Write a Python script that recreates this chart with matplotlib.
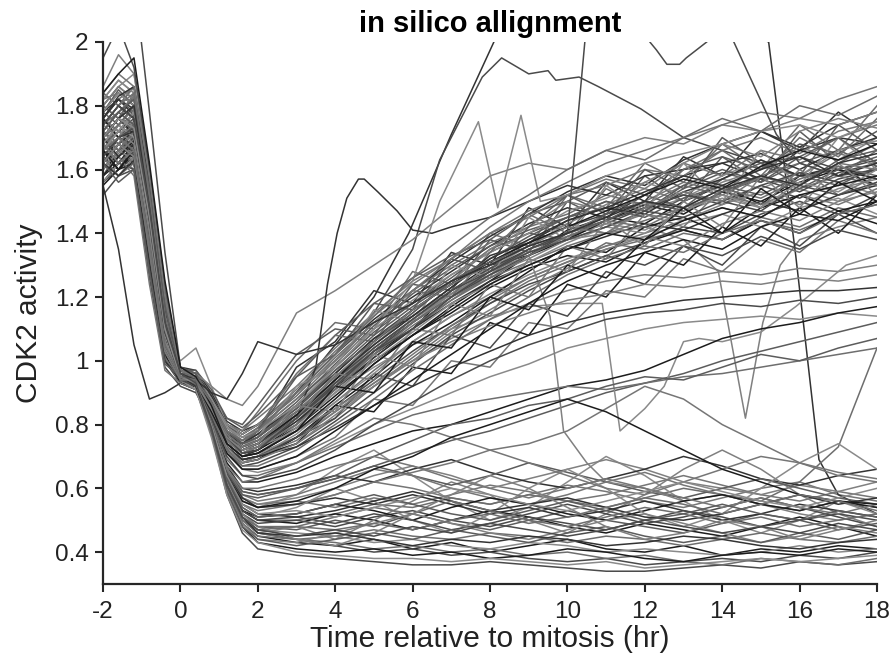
import matplotlib.pyplot as plt

plt.rcParams['font.family'] = ['Liberation Sans', 'DejaVu Sans']

# sampling times (hr relative to mitosis) shared by most cells
time_hr = [-2, -1.6, -1.2, -0.8, -0.4, 0, 0.4, 0.8, 1.2, 1.6, 2,
           3, 4, 5, 6, 7, 8, 9, 10, 11, 12, 13, 14, 15, 16, 17, 18]

# cells that re-activate CDK2 after mitosis
rising_cells = [
    [1.62,1.70,1.75,1.45,1.10,0.96,0.95,0.86,0.76,0.71,0.72, 0.80,0.93,1.02,1.10,1.22,1.30,1.33,1.41,1.45,1.43,1.50,1.55,1.49,1.58,1.60,1.55],
    [1.78,1.85,1.80,1.55,1.18,0.97,0.96,0.89,0.80,0.76,0.78, 0.88,0.98,1.10,1.18,1.26,1.35,1.40,1.38,1.46,1.52,1.48,1.57,1.62,1.55,1.63,1.66],
    [1.55,1.60,1.62,1.30,1.02,0.93,0.92,0.82,0.72,0.68,0.69, 0.76,0.86,0.95,1.05,1.12,1.20,1.28,1.36,1.34,1.42,1.45,1.40,1.48,1.52,1.47,1.50],
    [1.70,1.66,1.72,1.42,1.08,0.98,0.96,0.87,0.78,0.74,0.76, 0.86,0.97,1.06,1.15,1.25,1.32,1.39,1.45,1.50,1.47,1.55,1.60,1.56,1.64,1.70,1.62],
    [1.84,1.90,1.95,1.62,1.25,0.98,0.95,0.86,0.74,0.70,0.71, 0.78,0.88,0.99,1.08,1.16,1.24,1.30,1.35,1.40,1.38,1.44,1.48,1.45,1.52,1.55,1.58],
    [1.66,1.74,1.69,1.38,1.06,0.94,0.93,0.84,0.73,0.69,0.70, 0.74,0.82,0.92,1.01,1.10,1.18,1.25,1.30,1.37,1.35,1.40,1.38,1.45,1.42,1.48,1.45],
    [1.58,1.65,1.70,1.40,1.05,0.96,0.95,0.88,0.80,0.78,0.82, 0.92,1.04,1.15,1.25,1.32,1.40,1.45,1.52,1.55,1.60,1.58,1.66,1.70,1.65,1.72,1.75],
    [1.74,1.78,1.82,1.50,1.14,0.96,0.93,0.83,0.72,0.67,0.67, 0.72,0.80,0.88,0.97,1.05,1.13,1.20,1.27,1.32,1.36,1.34,1.40,1.44,1.40,1.46,1.49],
    [1.68,1.62,1.66,1.34,1.03,0.94,0.94,0.86,0.77,0.73,0.75, 0.84,0.95,1.06,1.16,1.24,1.30,1.36,1.42,1.40,1.48,1.53,1.50,1.58,1.55,1.62,1.60],
    [1.80,1.76,1.83,1.58,1.20,0.98,0.97,0.90,0.81,0.78,0.80, 0.90,1.00,1.12,1.20,1.28,1.36,1.43,1.48,1.45,1.52,1.58,1.62,1.57,1.66,1.70,1.68],
    [1.52,1.58,1.60,1.26,0.98,0.92,0.90,0.81,0.71,0.67,0.68, 0.73,0.81,0.90,0.99,1.08,1.15,1.22,1.28,1.33,1.37,1.42,1.40,1.46,1.50,1.46,1.52],
    [1.76,1.83,1.86,1.54,1.16,0.96,0.95,0.87,0.77,0.74,0.77, 0.86,0.96,1.07,1.14,1.23,1.33,1.37,1.44,1.48,1.46,1.53,1.57,1.63,1.58,1.61,1.57],
    [1.64,1.70,1.73,1.44,1.09,0.95,0.94,0.86,0.76,0.71,0.72, 0.82,0.92,1.03,1.10,1.20,1.28,1.34,1.38,1.42,1.47,1.45,1.50,1.47,1.55,1.52,1.56],
    [1.72,1.66,1.68,1.36,1.04,0.97,0.96,0.89,0.79,0.75,0.77, 0.84,0.93,1.02,1.12,1.21,1.30,1.38,1.43,1.49,1.54,1.50,1.56,1.60,1.67,1.63,1.70],
    [1.60,1.68,1.64,1.32,1.01,0.93,0.92,0.83,0.73,0.69,0.70, 0.77,0.87,0.96,1.06,1.14,1.21,1.27,1.32,1.36,1.39,1.43,1.46,1.42,1.48,1.51,1.46],
    [1.86,1.96,1.90,1.60,1.22,0.97,0.96,0.88,0.78,0.73,0.74, 0.82,0.94,1.05,1.15,1.25,1.35,1.42,1.50,1.47,1.56,1.62,1.68,1.64,1.72,1.76,1.73],
    [1.66,1.72,1.78,1.48,1.12,0.95,0.93,0.85,0.74,0.70,0.71, 0.79,0.90,1.00,1.09,1.18,1.24,1.31,1.37,1.42,1.40,1.47,1.52,1.48,1.56,1.53,1.60],
    [1.56,1.62,1.66,1.34,1.04,0.95,0.93,0.84,0.75,0.72,0.74, 0.83,0.92,1.00,1.08,1.15,1.23,1.29,1.33,1.31,1.37,1.41,1.38,1.44,1.40,1.47,1.43],
    [1.78,1.74,1.80,1.52,1.15,0.97,0.97,0.91,0.82,0.79,0.83, 0.95,1.08,1.18,1.26,1.33,1.38,1.46,1.50,1.56,1.52,1.60,1.64,1.60,1.68,1.65,1.72],
    [1.70,1.76,1.71,1.40,1.07,0.94,0.92,0.82,0.71,0.66,0.66, 0.70,0.78,0.86,0.94,1.02,1.10,1.18,1.25,1.30,1.34,1.38,1.35,1.42,1.46,1.44,1.50],
    [1.62,1.56,1.60,1.28,0.99,0.95,0.94,0.87,0.78,0.74,0.76, 0.85,0.97,1.08,1.17,1.25,1.31,1.36,1.40,1.44,1.50,1.47,1.53,1.58,1.54,1.60,1.64],
    [1.82,1.88,1.84,1.56,1.19,0.97,0.94,0.85,0.75,0.71,0.73, 0.80,0.90,1.01,1.10,1.19,1.27,1.35,1.40,1.46,1.50,1.56,1.53,1.61,1.58,1.65,1.62],
    [1.68,1.74,1.77,1.46,1.10,0.96,0.95,0.88,0.79,0.76,0.79, 0.89,1.01,1.12,1.22,1.30,1.37,1.42,1.46,1.52,1.49,1.55,1.52,1.58,1.62,1.58,1.66],
    [1.58,1.64,1.58,1.24,0.97,0.93,0.91,0.82,0.72,0.68,0.70, 0.75,0.84,0.93,1.02,1.11,1.19,1.26,1.31,1.36,1.40,1.44,1.48,1.45,1.52,1.49,1.54],
    [1.74,1.80,1.84,1.52,1.13,0.96,0.95,0.87,0.76,0.72,0.73, 0.80,0.91,1.02,1.12,1.20,1.26,1.33,1.39,1.44,1.42,1.48,1.54,1.51,1.57,1.61,1.58],
    [1.64,1.60,1.67,1.38,1.06,0.95,0.94,0.86,0.76,0.73,0.75, 0.83,0.93,1.03,1.13,1.22,1.29,1.35,1.39,1.43,1.48,1.52,1.49,1.55,1.51,1.57,1.60],
    [1.76,1.82,1.79,1.50,1.16,0.97,0.96,0.89,0.80,0.77,0.80, 0.90,1.02,1.13,1.22,1.31,1.39,1.46,1.53,1.58,1.55,1.63,1.68,1.72,1.67,1.74,1.78],
    [1.60,1.66,1.70,1.36,1.03,0.94,0.92,0.83,0.73,0.69,0.70, 0.76,0.85,0.94,1.03,1.11,1.18,1.24,1.28,1.33,1.30,1.36,1.33,1.39,1.35,1.41,1.38],
    [1.70,1.64,1.68,1.40,1.08,0.96,0.95,0.87,0.77,0.73,0.75, 0.84,0.95,1.05,1.14,1.23,1.32,1.38,1.44,1.48,1.53,1.58,1.55,1.60,1.64,1.58,1.62],
    [1.80,1.86,1.90,1.60,1.24,0.97,0.94,0.85,0.74,0.70,0.72, 0.81,0.92,1.03,1.12,1.20,1.29,1.36,1.43,1.40,1.47,1.51,1.57,1.54,1.59,1.56,1.52],
    [1.66,1.70,1.64,1.35,1.05,0.94,0.93,0.85,0.75,0.71,0.73, 0.82,0.93,1.04,1.13,1.21,1.27,1.32,1.38,1.42,1.46,1.44,1.49,1.53,1.49,1.54,1.57],
    [1.56,1.62,1.68,1.38,1.04,0.95,0.94,0.88,0.80,0.77,0.80, 0.90,1.00,1.10,1.19,1.27,1.34,1.40,1.47,1.51,1.56,1.52,1.58,1.63,1.58,1.66,1.69],
    [1.72,1.78,1.74,1.46,1.11,0.96,0.94,0.84,0.73,0.68,0.69, 0.74,0.83,0.92,1.00,1.09,1.16,1.23,1.29,1.35,1.39,1.36,1.43,1.47,1.44,1.50,1.53],
    [1.84,1.80,1.86,1.58,1.21,0.97,0.96,0.88,0.77,0.73,0.76, 0.86,0.98,1.09,1.18,1.27,1.34,1.40,1.45,1.50,1.47,1.54,1.59,1.56,1.62,1.66,1.61],
    [1.62,1.68,1.72,1.42,1.07,0.95,0.93,0.85,0.75,0.71,0.72, 0.79,0.89,0.99,1.08,1.17,1.25,1.33,1.38,1.44,1.49,1.46,1.53,1.50,1.56,1.60,1.57],
    [1.68,1.72,1.70,1.41,1.07,0.96,0.95,0.87,0.78,0.74,0.77, 0.87,0.99,1.11,1.21,1.29,1.36,1.41,1.45,1.48,1.45,1.51,1.55,1.52,1.58,1.55,1.61],
    [1.76,1.70,1.74,1.47,1.12,0.95,0.94,0.86,0.76,0.72,0.74, 0.83,0.94,1.06,1.16,1.24,1.31,1.37,1.42,1.47,1.52,1.57,1.54,1.61,1.66,1.63,1.68],
    [1.58,1.66,1.62,1.30,1.00,0.94,0.93,0.84,0.74,0.70,0.71, 0.78,0.87,0.97,1.06,1.14,1.20,1.26,1.31,1.35,1.38,1.41,1.38,1.44,1.41,1.46,1.49],
    [1.82,1.84,1.80,1.53,1.17,0.97,0.96,0.89,0.80,0.77,0.80, 0.91,1.03,1.14,1.24,1.32,1.40,1.47,1.52,1.57,1.54,1.62,1.58,1.66,1.63,1.70,1.74],
    [1.64,1.58,1.62,1.31,1.01,0.94,0.93,0.85,0.75,0.72,0.74, 0.82,0.92,1.02,1.11,1.19,1.26,1.31,1.36,1.40,1.44,1.48,1.52,1.49,1.54,1.58,1.55],
    [1.72,1.78,1.83,1.51,1.14,0.96,0.95,0.88,0.79,0.76,0.78, 0.88,1.00,1.12,1.22,1.32,1.42,1.50,1.56,1.62,1.66,1.70,1.74,1.78,1.76,1.82,1.86],
    [1.66,1.70,1.66,1.37,1.05,0.95,0.94,0.87,0.78,0.75,0.78, 0.90,1.02,1.14,1.26,1.36,1.45,1.52,1.60,1.66,1.63,1.70,1.76,1.72,1.80,1.77,1.83],
    [2.10,2.20,2.20,1.78,1.34,0.98,0.96,0.88,0.78,0.74,0.76, 0.85,0.96,1.07,1.16,1.24,1.31,1.37,1.42,1.46,1.50,1.47,1.53,1.57,1.53,1.59,1.62],
    [1.55,1.35,1.05,0.88,0.90,0.93,0.92,0.84,0.75,0.71,0.73, 0.81,0.91,1.01,1.10,1.18,1.25,1.30,1.35,1.39,1.43,1.41,1.46,1.50,1.47,1.52,1.55],
    [1.95,2.05,1.92,1.60,1.22,0.97,0.95,0.86,0.76,0.72,0.74, 0.83,0.94,1.04,1.13,1.22,1.28,1.35,1.40,1.44,1.48,1.52,1.50,1.55,1.59,1.56,1.60],
    [1.70,1.76,1.80,1.48,1.12,0.96,0.94,0.90,0.88,0.96,1.06, 1.02,1.05,1.12,1.18,1.25,1.30,1.36,1.40,1.45,1.50,1.48,1.54,1.58,1.55,1.62,1.65],
    [1.60,1.66,1.70,1.40,1.08,1.00,1.04,0.92,0.80,0.74,0.75, 0.83,0.93,1.03,1.12,1.21,1.28,1.34,1.39,1.43,1.41,1.47,1.51,1.48,1.54,1.50,1.56],
    [1.68,1.74,1.70,1.44,1.10,0.97,0.96,0.92,0.88,0.86,0.92, 1.15,1.22,1.30,1.38,1.48,1.58,1.62,1.60,1.66,1.70,1.68,1.74,1.72,1.76,1.74,1.78],
    [1.74,1.70,1.78,1.50,1.14,0.97,0.95,0.87,0.77,0.73,0.76, 0.92,0.98,1.16,1.12,1.30,1.26,1.45,1.38,1.55,1.47,1.62,1.50,1.66,1.55,1.70,1.60],
    [1.62,1.68,1.64,1.36,1.04,0.95,0.93,0.85,0.76,0.72,0.74, 0.86,0.84,1.02,0.98,1.18,1.14,1.32,1.28,1.44,1.36,1.50,1.42,1.58,1.48,1.62,1.52],
    [1.80,1.86,1.82,1.55,1.18,0.97,0.96,0.89,0.82,0.80,0.86, 1.02,1.10,1.08,1.24,1.22,1.38,1.34,1.50,1.44,1.58,1.50,1.64,1.56,1.72,1.62,1.68],
    [1.58,1.62,1.68,1.38,1.04,0.94,0.92,0.83,0.73,0.69,0.70, 0.74,0.86,0.84,0.98,0.96,1.12,1.08,1.24,1.20,1.34,1.30,1.42,1.36,1.48,1.40,1.52],
    [1.70,1.76,1.72,1.46,1.11,0.96,0.94,0.86,0.77,0.74,0.78, 0.95,1.02,1.18,1.16,1.32,1.28,1.42,1.52,1.46,1.60,1.54,1.70,1.62,1.58,1.74,1.66],
    [1.66,1.60,1.66,1.36,1.04,0.95,0.93,0.84,0.74,0.70,0.71, 0.78,0.92,0.90,1.06,1.04,1.20,1.16,1.30,1.26,1.38,1.48,1.40,1.54,1.46,1.56,1.50],
    [1.76,1.82,1.86,1.56,1.18,0.97,0.95,0.88,0.80,0.78,0.84, 1.00,1.12,1.10,1.28,1.24,1.40,1.36,1.52,1.48,1.62,1.56,1.68,1.60,1.74,1.66,1.80],
    [1.60,1.66,1.62,1.34,1.02,0.94,0.92,0.82,0.71,0.66,0.66, 0.70,0.76,0.88,0.86,1.00,0.98,1.12,1.10,1.22,1.20,1.32,1.28,1.38,1.34,1.44,1.40],
    [1.72,1.68,1.74,1.47,1.12,0.96,0.95,0.87,0.78,0.75,0.79, 0.96,1.08,1.06,1.22,1.20,1.34,1.46,1.40,1.54,1.48,1.60,1.66,1.58,1.70,1.64,1.76],
    [1.84,1.90,1.86,1.58,1.21,0.97,0.95,0.86,0.75,0.71,0.73, 0.82,0.96,0.94,1.10,1.08,1.24,1.20,1.36,1.32,1.46,1.42,1.54,1.48,1.60,1.52,1.58],
    [1.64,1.70,1.68,1.40,1.06,0.95,0.94,0.86,0.77,0.74,0.78, 0.98,1.06,1.22,1.18,1.34,1.30,1.48,1.42,1.56,1.50,1.64,1.58,1.72,1.66,1.78,1.70],
    [1.56,1.62,1.60,1.30,1.00,0.93,0.91,0.82,0.72,0.68,0.69, 0.76,0.82,0.96,0.92,1.08,1.04,1.18,1.14,1.28,1.24,1.36,1.30,1.42,1.36,1.46,1.40],
]

# cells that level off around 1.1-1.3
plateau_cells = [
    [1.70,1.76,1.80,1.50,1.12,0.95,0.93,0.84,0.73,0.69,0.70, 0.73,0.79,0.86,0.92,0.98,1.03,1.08,1.12,1.15,1.17,1.19,1.20,1.21,1.22,1.22,1.23],
    [1.62,1.68,1.64,1.36,1.04,0.94,0.92,0.82,0.70,0.64,0.63, 0.66,0.72,0.80,0.87,0.94,1.00,1.05,1.09,1.13,1.15,1.16,1.18,1.17,1.19,1.18,1.20],
    [1.74,1.70,1.75,1.45,1.10,0.96,0.94,0.85,0.74,0.70,0.71, 0.76,0.84,0.92,1.00,1.07,1.13,1.18,1.22,1.25,1.27,1.26,1.28,1.27,1.29,1.28,1.30],
    [1.58,1.64,1.69,1.38,1.05,0.94,0.93,0.83,0.71,0.66,0.65, 0.68,0.74,0.80,0.85,0.90,0.95,0.99,1.04,1.07,1.10,1.12,1.13,1.14,1.13,1.15,1.14],
    [1.80,1.86,1.82,1.54,1.16,0.96,0.95,0.86,0.75,0.71,0.73, 0.78,0.85,0.93,1.00,1.06,1.11,1.15,1.19,1.21,1.24,1.23,1.25,1.24,1.26,1.25,1.27],
]

# quiescent cells (CDK2 low)
low_cells = [
    [1.68,1.74,1.70,1.42,1.08,0.94,0.91,0.76,0.58,0.47,0.43, 0.40,0.39,0.38,0.38,0.37,0.38,0.37,0.36,0.37,0.35,0.36,0.37,0.38,0.37,0.38,0.39],
    [1.60,1.66,1.72,1.40,1.05,0.95,0.92,0.78,0.60,0.49,0.45, 0.43,0.42,0.44,0.41,0.43,0.40,0.42,0.44,0.41,0.40,0.42,0.39,0.41,0.40,0.42,0.41],
    [1.76,1.82,1.78,1.52,1.15,0.96,0.93,0.80,0.63,0.52,0.48, 0.47,0.50,0.48,0.52,0.49,0.47,0.50,0.53,0.50,0.48,0.46,0.49,0.52,0.50,0.47,0.49],
    [1.66,1.62,1.68,1.36,1.03,0.94,0.92,0.79,0.62,0.53,0.51, 0.52,0.55,0.53,0.50,0.54,0.57,0.55,0.52,0.50,0.53,0.56,0.58,0.55,0.53,0.56,0.54],
    [1.72,1.78,1.82,1.54,1.17,0.95,0.92,0.77,0.59,0.48,0.44, 0.42,0.44,0.46,0.44,0.47,0.45,0.43,0.46,0.48,0.45,0.43,0.45,0.43,0.46,0.44,0.47],
    [1.58,1.64,1.60,1.30,1.00,0.93,0.91,0.79,0.64,0.56,0.54, 0.55,0.58,0.62,0.60,0.57,0.55,0.58,0.61,0.59,0.56,0.54,0.57,0.60,0.62,0.58,0.56],
    [1.80,1.76,1.84,1.57,1.19,0.97,0.94,0.80,0.61,0.50,0.46, 0.44,0.43,0.41,0.42,0.40,0.41,0.39,0.40,0.38,0.39,0.37,0.36,0.38,0.37,0.36,0.38],
    [1.64,1.70,1.67,1.38,1.05,0.95,0.93,0.81,0.66,0.58,0.56, 0.58,0.62,0.66,0.64,0.60,0.57,0.55,0.58,0.62,0.65,0.61,0.58,0.55,0.53,0.56,0.54],
    [1.70,1.66,1.72,1.43,1.09,0.95,0.92,0.78,0.60,0.50,0.47, 0.48,0.51,0.54,0.52,0.56,0.53,0.50,0.48,0.51,0.54,0.52,0.49,0.51,0.48,0.50,0.52],
    [1.56,1.62,1.66,1.33,1.01,0.94,0.91,0.77,0.58,0.46,0.41, 0.39,0.38,0.37,0.36,0.36,0.37,0.36,0.35,0.34,0.34,0.35,0.36,0.35,0.37,0.36,0.37],
    [1.78,1.84,1.80,1.53,1.16,0.96,0.94,0.82,0.67,0.60,0.59, 0.61,0.64,0.62,0.66,0.69,0.65,0.62,0.60,0.63,0.66,0.70,0.67,0.63,0.61,0.64,0.66],
    [1.66,1.72,1.76,1.47,1.11,0.95,0.92,0.79,0.62,0.52,0.49, 0.50,0.48,0.51,0.53,0.50,0.48,0.51,0.49,0.47,0.50,0.53,0.51,0.48,0.50,0.52,0.50],
    [1.62,1.58,1.63,1.31,1.00,0.94,0.92,0.80,0.64,0.55,0.52, 0.51,0.53,0.56,0.59,0.56,0.53,0.55,0.57,0.54,0.51,0.50,0.52,0.55,0.58,0.55,0.57],
    [1.74,1.80,1.76,1.48,1.12,0.96,0.93,0.79,0.61,0.51,0.47, 0.45,0.47,0.45,0.48,0.46,0.49,0.47,0.45,0.47,0.50,0.48,0.46,0.48,0.46,0.49,0.47],
    [1.68,1.64,1.70,1.39,1.06,0.95,0.93,0.81,0.65,0.57,0.55, 0.57,0.60,0.64,0.67,0.64,0.60,0.63,0.66,0.69,0.66,0.62,0.60,0.58,0.61,0.59,0.62],
    [1.82,1.88,1.84,1.59,1.21,0.97,0.94,0.80,0.62,0.51,0.47, 0.46,0.45,0.43,0.44,0.42,0.41,0.43,0.42,0.40,0.41,0.40,0.39,0.40,0.42,0.40,0.41],
    [1.60,1.66,1.63,1.34,1.03,0.94,0.91,0.78,0.60,0.49,0.44, 0.43,0.46,0.49,0.52,0.49,0.46,0.44,0.47,0.50,0.52,0.49,0.46,0.43,0.45,0.48,0.46],
    [1.70,1.76,1.73,1.45,1.10,0.95,0.93,0.80,0.64,0.55,0.52, 0.53,0.51,0.54,0.57,0.60,0.58,0.55,0.53,0.56,0.59,0.62,0.59,0.56,0.54,0.57,0.60],
    [1.64,1.60,1.66,1.35,1.03,0.94,0.92,0.79,0.62,0.53,0.50, 0.49,0.52,0.50,0.47,0.50,0.53,0.51,0.48,0.46,0.49,0.47,0.45,0.48,0.51,0.48,0.45],
    [1.76,1.72,1.78,1.50,1.14,0.96,0.94,0.81,0.66,0.59,0.58, 0.60,0.63,0.67,0.64,0.61,0.64,0.68,0.65,0.62,0.59,0.57,0.60,0.63,0.60,0.57,0.55],
    [1.58,1.64,1.69,1.39,1.05,0.95,0.92,0.78,0.59,0.48,0.43, 0.41,0.40,0.41,0.39,0.40,0.38,0.39,0.41,0.40,0.38,0.37,0.39,0.40,0.39,0.41,0.40],
    [1.72,1.78,1.74,1.46,1.10,0.95,0.93,0.80,0.63,0.54,0.51, 0.52,0.55,0.58,0.55,0.52,0.50,0.53,0.56,0.53,0.50,0.52,0.55,0.52,0.50,0.53,0.51],
    [1.66,1.70,1.64,1.34,1.03,0.94,0.92,0.80,0.65,0.57,0.55, 0.56,0.54,0.57,0.55,0.58,0.61,0.59,0.56,0.58,0.61,0.64,0.61,0.58,0.56,0.59,0.57],
    [1.84,1.80,1.86,1.60,1.23,0.97,0.94,0.79,0.60,0.49,0.45, 0.44,0.45,0.47,0.45,0.44,0.46,0.45,0.43,0.45,0.44,0.42,0.44,0.46,0.44,0.43,0.45],
    [1.62,1.68,1.65,1.36,1.04,0.94,0.92,0.81,0.66,0.60,0.60, 0.63,0.67,0.70,0.67,0.63,0.60,0.57,0.60,0.63,0.60,0.57,0.54,0.57,0.54,0.52,0.55],
    [1.70,1.74,1.79,1.50,1.13,0.96,0.93,0.79,0.61,0.51,0.48, 0.48,0.47,0.49,0.47,0.50,0.52,0.49,0.51,0.54,0.57,0.55,0.52,0.55,0.58,0.56,0.53],
    [1.56,1.60,1.64,1.32,1.01,0.93,0.91,0.78,0.60,0.50,0.46, 0.44,0.42,0.40,0.41,0.39,0.40,0.38,0.37,0.38,0.36,0.37,0.38,0.37,0.39,0.38,0.40],
    [1.78,1.82,1.77,1.51,1.15,0.96,0.94,0.81,0.65,0.57,0.54, 0.55,0.57,0.55,0.58,0.55,0.52,0.54,0.51,0.53,0.56,0.53,0.50,0.52,0.55,0.53,0.51],
    [1.68,1.62,1.67,1.38,1.06,0.95,0.93,0.80,0.63,0.53,0.50, 0.51,0.49,0.52,0.50,0.47,0.49,0.52,0.55,0.52,0.49,0.51,0.54,0.57,0.54,0.51,0.48],
    [1.64,1.70,1.72,1.44,1.09,0.95,0.92,0.79,0.61,0.51,0.46, 0.45,0.46,0.44,0.42,0.44,0.43,0.45,0.44,0.42,0.43,0.45,0.44,0.42,0.41,0.43,0.44],
    [1.70,1.76,1.74,1.46,1.10,0.95,0.92,0.80,0.64,0.56,0.54, 0.58,0.66,0.72,0.64,0.56,0.50,0.54,0.62,0.70,0.64,0.56,0.50,0.46,0.50,0.56,0.52],
    [1.62,1.58,1.64,1.34,1.02,0.94,0.91,0.78,0.60,0.50,0.46, 0.48,0.44,0.50,0.56,0.62,0.58,0.50,0.46,0.52,0.58,0.66,0.72,0.66,0.58,0.52,0.48],
    [1.78,1.84,1.80,1.53,1.16,0.96,0.93,0.80,0.63,0.54,0.51, 0.54,0.60,0.56,0.50,0.46,0.52,0.60,0.66,0.60,0.52,0.48,0.52,0.60,0.68,0.74,0.66],
    [1.66,1.72,1.68,1.40,1.06,0.95,0.92,0.79,0.62,0.52,0.48, 0.44,0.42,0.46,0.52,0.58,0.64,0.60,0.54,0.48,0.44,0.46,0.50,0.48,0.44,0.47,0.50],
]

# cells drifting between the two populations
between_cells = [
    [1.70,1.76,1.72,1.44,1.09,0.95,0.93,0.80,0.66,0.59,0.58, 0.60,0.63,0.67,0.71,0.75,0.78,0.82,0.86,0.90,0.93,0.96,1.00,1.03,1.06,1.09,1.12],
    [1.66,1.60,1.65,1.34,1.02,0.94,0.92,0.81,0.68,0.62,0.62, 0.65,0.70,0.74,0.78,0.80,0.84,0.88,0.92,0.94,0.97,1.02,1.07,1.10,1.12,1.15,1.17],
    [1.62,1.68,1.64,1.35,1.03,0.94,0.92,0.80,0.65,0.58,0.57, 0.60,0.64,0.70,0.75,0.80,0.82,0.86,0.88,0.92,0.95,0.94,0.98,1.02,1.00,1.04,1.07],
    [1.74,1.80,1.76,1.49,1.12,0.96,0.93,0.80,0.64,0.56,0.54, 0.56,0.60,0.66,0.70,0.76,0.80,0.84,0.88,0.84,0.78,0.72,0.66,0.62,0.58,0.56,0.55],
    [1.60,1.66,1.70,1.42,1.07,0.95,0.92,0.79,0.62,0.53,0.50, 0.50,0.52,0.55,0.54,0.57,0.55,0.58,0.56,0.54,0.57,0.60,0.58,0.56,0.62,0.73,1.04],
    [1.68,1.72,1.69,1.40,1.07,0.95,0.92,0.79,0.63,0.55,0.53, 0.55,0.58,0.62,0.65,0.68,0.72,0.74,0.78,0.85,0.92,0.88,0.80,0.74,0.68,0.64,0.62],
    [1.76,1.70,1.74,1.46,1.11,0.96,0.93,0.82,0.69,0.64,0.64, 0.68,0.73,0.78,0.83,0.86,0.88,0.90,0.92,0.91,0.93,0.95,0.96,0.98,1.00,1.02,1.04],
    [1.64,1.70,1.74,1.45,1.09,0.95,0.93,0.81,0.67,0.62,0.63, 0.68,0.75,0.82,0.80,0.76,0.72,0.68,0.64,0.60,0.58,0.62,0.66,0.70,0.68,0.65,0.63],
]

# individual outlier tracks, each with its own time points
outlier_a_t = [-2,-1.6,-1.2,-0.8,-0.4,0,0.4,0.8,1.2,1.6,2,3,4,5,5.9,7,8.1,9,15.2,15.9,16.5,17,18]
outlier_a_v = [1.66,1.72,1.75,1.45,1.09,0.95,0.94,0.87,0.78,0.75,0.78,0.90,1.05,1.20,1.40,1.71,2.00,2.30,2.00,1.33,0.69,0.58,0.52]

outlier_b_t = [-2,-1.6,-1.2,-0.8,-0.4,0,0.4,0.8,1.2,1.6,2,3,4,5,6,6.7,7.8,8.3,9,9.5,9.7,10.3,10.8,11.9,13,14,15,16,17,18]
outlier_b_v = [1.72,1.68,1.74,1.46,1.10,0.96,0.95,0.88,0.80,0.77,0.80,0.90,1.02,1.15,1.35,1.63,1.89,1.95,1.90,1.91,1.88,1.89,1.86,1.79,1.70,1.66,1.62,1.64,1.60,1.63]

outlier_c_t = [-2,-1.6,-1.2,-0.8,-0.4,0,0.4,0.8,1.2,1.6,2,3,3.5,3.8,4.05,4.3,4.6,4.75,5.1,5.6,6,6.5,7,8,9,10,11,12,13,14,15,16,17,18]
outlier_c_v = [1.62,1.68,1.72,1.42,1.06,0.95,0.93,0.84,0.74,0.70,0.72,0.82,0.98,1.24,1.40,1.51,1.57,1.57,1.53,1.47,1.41,1.40,1.42,1.45,1.50,1.55,1.52,1.58,1.60,1.62,1.65,1.60,1.66,1.70]

outlier_d_t = [-2,-1.6,-1.2,-0.8,-0.4,0,0.4,0.8,1.2,1.6,2,3,4,5,6,7,8,9,10,10.45,11,12,12.13,12.3,12.57,12.9,13.07,13.6,14,14.3,15.4,16,17,18]
outlier_d_v = [1.74,1.80,1.76,1.50,1.13,0.96,0.94,0.86,0.76,0.72,0.74,0.82,0.93,1.03,1.12,1.20,1.27,1.33,1.40,2.00,2.20,2.05,2.00,1.975,1.93,1.93,1.95,2.00,2.05,2.00,1.71,1.62,1.58,1.60]

outlier_e_t = [-2,-1.6,-1.2,-0.8,-0.4,0,0.4,0.8,1.2,1.6,2,3,4,5,6,7,8,9,10,11,12,13,13.9,14.6,15.05,15.5,16,17,18]
outlier_e_v = [1.70,1.64,1.70,1.43,1.08,0.96,0.94,0.86,0.76,0.72,0.74,0.84,0.95,1.05,1.14,1.22,1.29,1.34,1.38,1.40,1.42,1.38,1.28,0.82,1.12,1.30,1.38,1.42,1.45]

outlier_f_t = [-2,-1.6,-1.2,-0.8,-0.4,0,0.4,0.8,1.2,1.6,2,3,4,5,6,7,8,9,10,10.9,11.36,12,12.5,13,13.4,14,15,15.9,17.2,18]
outlier_f_v = [1.66,1.70,1.74,1.44,1.09,0.95,0.93,0.84,0.73,0.69,0.70,0.80,0.90,0.98,1.05,1.10,1.14,1.17,1.18,1.18,0.78,0.85,0.92,1.06,1.07,1.06,1.09,1.17,1.30,1.33]

outlier_g_t = [-2,-1.6,-1.2,-0.8,-0.4,0,0.4,0.8,1.2,1.6,2,3,4,5,6,7,8,9,9.55,9.9,10.5,11,12,13,14,15,16,17,18]
outlier_g_v = [1.76,1.72,1.78,1.50,1.13,0.96,0.94,0.85,0.75,0.71,0.73,0.83,0.94,1.04,1.13,1.21,1.28,1.33,1.14,0.78,0.68,0.62,0.60,0.56,0.58,0.55,0.52,0.50,0.52]

outlier_h_t = [-2,-1.6,-1.2,-0.8,-0.4,0,0.4,0.8,1.2,1.6,2,3,4,5,6,6.7,7.7,8.2,8.8,9.3,10,11,12,13,14,15,16,17,18]
outlier_h_v = [1.64,1.70,1.66,1.40,1.06,0.96,0.95,0.88,0.79,0.76,0.78,0.86,0.98,1.10,1.25,1.50,1.75,1.48,1.77,1.50,1.52,1.58,1.62,1.65,1.68,1.72,1.74,1.70,1.75]

outliers = [(outlier_a_t, outlier_a_v), (outlier_b_t, outlier_b_v),
            (outlier_c_t, outlier_c_v), (outlier_d_t, outlier_d_v),
            (outlier_e_t, outlier_e_v), (outlier_f_t, outlier_f_v),
            (outlier_g_t, outlier_g_v), (outlier_h_t, outlier_h_v)]

x_ticks = [-2, 0, 2, 4, 6, 8, 10, 12, 14, 16, 18]
x_tick_labels = ['-2', '0', '2', '4', '6', '8', '10', '12', '14', '16', '18']
y_ticks = [0.4, 0.6, 0.8, 1.0, 1.2, 1.4, 1.6, 1.8, 2.0]
y_tick_labels = ['0.4', '0.6', '0.8', '1', '1.2', '1.4', '1.6', '1.8', '2']

# matlab-ish gray shades, cycled so neighbours differ
grays = ['#1c1c1c', '#6e6e6e', '#4a4a4a', '#808080', '#5c5c5c', '#767676', '#333333', '#8a8a8a']

traces = [(time_hr, v) for v in rising_cells + plateau_cells + low_cells + between_cells] + outliers
n = len(traces)
order = [(i * 37) % n for i in range(n)]

fig = plt.figure(figsize=(8.95, 6.58), dpi=100)
ax = fig.add_axes([0.1151, 0.1125, 0.8648, 0.8237])

for k, idx in enumerate(order):
    t, v = traces[idx]
    ax.plot(t, v, color=grays[k % len(grays)], lw=1.1)

ax.set_xlim(-2, 18)
ax.set_ylim(0.3, 2)
ax.set_xticks(x_ticks)
ax.set_xticklabels(x_tick_labels)
ax.set_yticks(y_ticks)
ax.set_yticklabels(y_tick_labels)

for side in ['top', 'right']:
    ax.spines[side].set_visible(False)
for side in ['left', 'bottom']:
    ax.spines[side].set_linewidth(1.6)
    ax.spines[side].set_color('#262626')
ax.tick_params(direction='out', length=5.5, width=1.5, colors='#262626',
               labelsize=17.5, labelcolor='#222222')
ax.tick_params(axis='x', pad=7)
ax.tick_params(axis='y', pad=5)

ax.set_xlabel('Time relative to mitosis (hr)', fontsize=21.5, color='#222222', labelpad=1)
ax.set_ylabel('CDK2 activity', fontsize=21.5, color='#222222', labelpad=8)
ax.set_title('in silico allignment', fontsize=21, fontweight='bold', pad=7)

fig.savefig('out.png', dpi=100)
